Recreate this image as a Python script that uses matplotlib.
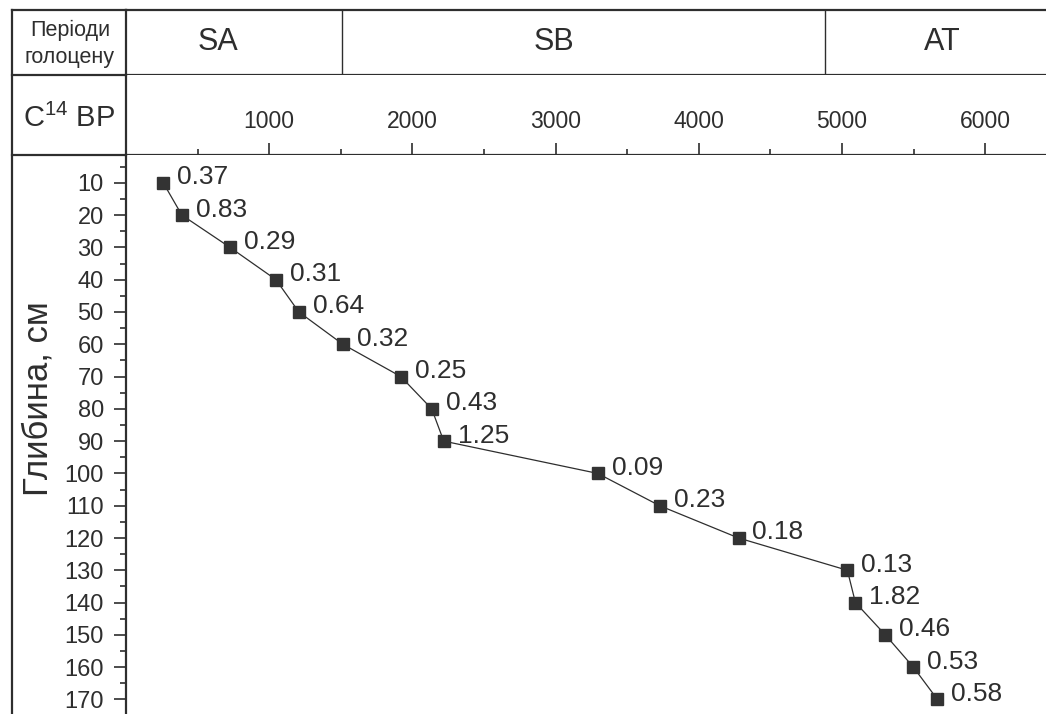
import matplotlib
matplotlib.use("Agg")
import matplotlib.pyplot as plt
from matplotlib.lines import Line2D
from matplotlib.ticker import MultipleLocator

plt.rcParams["font.family"] = ["Liberation Sans", "DejaVu Sans"]
plt.rcParams["mathtext.fontset"] = "custom"
plt.rcParams["mathtext.rm"] = "Liberation Sans"

# depth (cm) vs radiocarbon age (C14 BP), label = value printed next to each point
DEPTH = [10, 20, 30, 40, 50, 60, 70, 80, 90, 100, 110, 120, 130, 140, 150, 160, 170]
AGE_BP = [260, 390, 726, 1047, 1207, 1514, 1919, 2135, 2219, 3294, 3727, 4278,
          5038, 5094, 5303, 5499, 5667]
VALUES = ["0.37", "0.83", "0.29", "0.31", "0.64", "0.32", "0.25", "0.43", "1.25",
          "0.09", "0.23", "0.18", "0.13", "1.82", "0.46", "0.53", "0.58"]

# holocene periods
PERIOD_NAMES = ["SA", "SB", "AT"]
PERIOD_LABEL_X = [640, 2990, 5700]
PERIOD_BOUNDS = [1510, 4880]

AGE_TICKS = [1000, 2000, 3000, 4000, 5000, 6000]
DEPTH_TICKS = list(range(10, 171, 10))

INK = "#2e2e2e"
W, H = 1046, 714
XLIM = (0, 6425)


def px_rect(x0, y0, x1, y1):
    return [x0 / W, 1 - y1 / H, (x1 - x0) / W, (y1 - y0) / H]


def fig_line(fig, xs, ys, lw=1.6):
    fig.add_artist(Line2D([x / W for x in xs], [1 - y / H for y in ys],
                          transform=fig.transFigure, color=INK, lw=lw))


fig = plt.figure(figsize=(W / 100, H / 100), dpi=100)
fig.patch.set_facecolor("white")

# row 1: periods
ax_per = fig.add_axes(px_rect(126, 10, W, 75))
ax_per.set_xlim(*XLIM)
ax_per.set_ylim(0, 1)
ax_per.set_xticks([])
ax_per.set_yticks([])
ax_per.spines["right"].set_visible(False)
for s in ["top", "bottom", "left"]:
    ax_per.spines[s].set_linewidth(1.6)
    ax_per.spines[s].set_color(INK)
for b in PERIOD_BOUNDS:
    ax_per.axvline(b, color=INK, lw=1.0)
for name, xpos in zip(PERIOD_NAMES, PERIOD_LABEL_X):
    ax_per.text(xpos, 0.5, name, ha="center", va="center", fontsize=22, color=INK)

# row 2: C14 age scale
ax_c = fig.add_axes(px_rect(126, 75, W, 155))
ax_c.set_xlim(*XLIM)
ax_c.set_ylim(0, 1)
ax_c.set_yticks([])
ax_c.spines["right"].set_visible(False)
ax_c.spines["top"].set_visible(False)
for s in ["bottom", "left"]:
    ax_c.spines[s].set_linewidth(1.6)
    ax_c.spines[s].set_color(INK)
ax_c.set_xticks(AGE_TICKS)
ax_c.xaxis.set_minor_locator(MultipleLocator(500))
ax_c.tick_params(axis="x", which="major", direction="in", length=9, width=1.2,
                 color=INK, labelbottom=False)
ax_c.tick_params(axis="x", which="minor", direction="in", length=4.5, width=1.2,
                 color=INK)
for t in AGE_TICKS:
    ax_c.text(t, 0.42, str(t), ha="center", va="center", fontsize=16.5, color=INK)

# main plot
ax = fig.add_axes(px_rect(126, 155, W, H))
ax.plot(AGE_BP, DEPTH, color=INK, lw=0.9, marker="s", markersize=9,
        markerfacecolor="#333333", markeredgecolor="#333333")
for x, y, v in zip(AGE_BP, DEPTH, VALUES):
    ax.annotate(v, (x, y), xytext=(10, 4), textcoords="offset points",
                ha="left", va="center", fontsize=19, color=INK)
ax.set_xlim(*XLIM)
ax.set_ylim(174.5, 1.4)
ax.set_xticks([])
ax.set_yticks(DEPTH_TICKS)
ax.set_yticklabels([str(d) for d in DEPTH_TICKS])
ax.yaxis.set_minor_locator(MultipleLocator(5))
ax.tick_params(axis="y", which="major", direction="out", length=9, width=1.2,
               color=INK, labelsize=17, labelcolor=INK, pad=7)
ax.tick_params(axis="y", which="minor", direction="out", length=4.5, width=1.2,
               color=INK)
for s in ["top", "right", "bottom"]:
    ax.spines[s].set_visible(False)
ax.spines["left"].set_linewidth(1.6)
ax.spines["left"].set_color(INK)

# left column frame and labels
fig_line(fig, [12, 12], [10, H])
fig_line(fig, [12, 126], [10, 10])
fig_line(fig, [12, 126], [75, 75])
fig_line(fig, [12, 126], [155, 155])

fig.text(70 / W, 1 - 44 / H, "Періоди\nголоцену", ha="center", va="center",
         fontsize=15.5, color=INK, linespacing=1.35)
fig.text(69 / W, 1 - 118 / H, r"C$^{\mathregular{14}}$ BP", ha="center", va="center",
         fontsize=21, color=INK)
fig.text(38 / W, 1 - 399 / H, "Глибина, см", ha="center", va="center",
         rotation=90, fontsize=25, color=INK)

fig.savefig("out.png", dpi=100, facecolor="white")
